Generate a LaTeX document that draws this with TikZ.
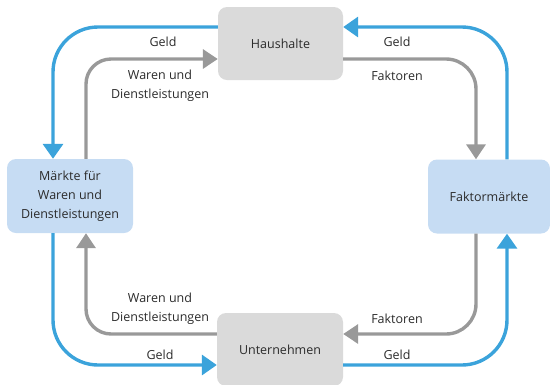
\documentclass[tikz,border=0pt]{standalone}
\usepackage{fontspec}
\setmainfont{Open Sans}
\usetikzlibrary{arrows.meta}
\definecolor{flowblue}{HTML}{3BA3DB}
\definecolor{flowgray}{HTML}{999999}
\definecolor{boxgray}{HTML}{DADADA}
\definecolor{boxblue}{HTML}{C6DCF3}
\definecolor{txt}{HTML}{2B2B2B}
\begin{document}
\begin{tikzpicture}[x=1pt,y=-1pt,
  every node/.style={text=txt,font=\fontsize{12.5}{19}\selectfont},
  hbox/.style={fill=boxgray,rounded corners=9pt,inner sep=0pt},
  mbox/.style={fill=boxblue,rounded corners=9pt,inner sep=0pt,align=center},
  bflow/.style={draw=flowblue,line width=3.4pt,-{Triangle[width=20pt,length=15pt]}},
  gflow/.style={draw=flowgray,line width=3.4pt,-{Triangle[width=19pt,length=15pt]}},
  lbl/.style={align=center,inner sep=0pt}]
\useasboundingbox (0,0) rectangle (550,384);
\node[hbox,minimum width=125pt,minimum height=73pt] (hh) at (280.5,43.5) {Haushalte};
\node[hbox,minimum width=126pt,minimum height=73pt] (un) at (280,349.5) {Unternehmen};
\node[mbox,minimum width=126pt,minimum height=74pt] (mk) at (70,196) {Märkte für\\Waren und\\Dienstleistungen};
\node[mbox,minimum width=122pt,minimum height=74pt] (fk) at (489,196.5) {Faktormärkte};
% top left
\draw[bflow,rounded corners=45pt] ([yshift=16.5pt]hh.west) -| ([xshift=-17pt]mk.north);
\draw[gflow,rounded corners=25pt] ([xshift=16pt]mk.north) |- ([yshift=-15.5pt]hh.west);
% top right
\draw[bflow,rounded corners=45pt] ([xshift=18pt]fk.north) |- ([yshift=16.5pt]hh.east);
\draw[gflow,rounded corners=30pt] ([yshift=-15.5pt]hh.east) -| ([xshift=-13pt]fk.north);
% bottom left
\draw[bflow,rounded corners=45pt] ([xshift=-17pt]mk.south) |- ([yshift=-15.5pt]un.west);
\draw[gflow,rounded corners=25pt] ([yshift=15.5pt]un.west) -| ([xshift=16pt]mk.south);
% bottom right
\draw[bflow,rounded corners=45pt] ([yshift=-15.5pt]un.east) -| ([xshift=18pt]fk.south);
\draw[gflow,rounded corners=30pt] ([xshift=-13pt]fk.south) |- ([yshift=15.5pt]un.east);
% labels
\node[lbl] (l1) at (163,42) {Geld};
\node[lbl] (l2) at (160,85.5) {Waren und\\Dienstleistungen};
\node[lbl] (l3) at (397,42) {Geld};
\node[lbl] (l4) at (397,76) {Faktoren};
\node[lbl] (l5) at (160,309) {Waren und\\Dienstleistungen};
\node[lbl] (l6) at (160,355) {Geld};
\node[lbl] (l7) at (397,319) {Faktoren};
\node[lbl] (l8) at (397,355) {Geld};
\end{tikzpicture}
\end{document}
